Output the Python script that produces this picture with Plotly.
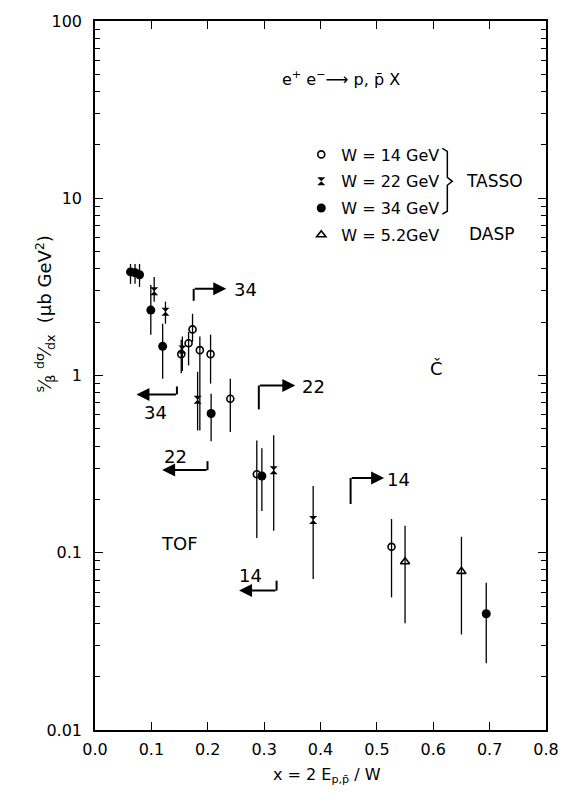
import plotly.graph_objects as go

# ---------------- data ----------------
# W = 14 GeV (TASSO, open circles)
x14 = [0.153, 0.166, 0.173, 0.186, 0.205, 0.240, 0.287, 0.526]
y14 = [1.32, 1.52, 1.82, 1.39, 1.32, 0.74, 0.277, 0.108]
y14_hi = [1.59, 1.76, 2.23, 1.66, 1.70, 0.96, 0.43, 0.155]
y14_lo = [1.03, 1.14, 1.55, 0.49, 0.90, 0.48, 0.121, 0.056]

# W = 22 GeV (TASSO, stars)
x22 = [0.105, 0.125, 0.155, 0.182, 0.317, 0.387]
y22 = [2.99, 2.29, 1.40, 0.73, 0.292, 0.153]
y22_hi = [3.60, 2.61, 1.66, 1.05, 0.46, 0.238]
y22_lo = [2.61, 1.96, 1.06, 0.49, 0.133, 0.071]

# W = 34 GeV (TASSO, filled circles)
x34 = [0.063, 0.071, 0.079, 0.099, 0.120, 0.206, 0.296, 0.694]
y34 = [3.84, 3.80, 3.70, 2.34, 1.46, 0.61, 0.271, 0.0453]
y34_hi = [4.26, 4.26, 4.26, 3.24, 1.96, 0.79, 0.389, 0.0678]
y34_lo = [3.29, 3.29, 3.16, 1.70, 0.96, 0.426, 0.172, 0.0238]

# W = 5.2 GeV (DASP, open triangles)
x52 = [0.550, 0.650]
y52 = [0.0889, 0.0785]
y52_hi = [0.142, 0.123]
y52_lo = [0.040, 0.0346]

x_ticks = [0.0, 0.1, 0.2, 0.3, 0.4, 0.5, 0.6, 0.7, 0.8]
x_ticklabels = ["0.0", "0.1", "0.2", "0.3", "0.4", "0.5", "0.6", "0.7", "0.8"]
y_ticks = [0.01, 0.1, 1, 10, 100]
y_ticklabels = ["0.01", "0.1", "1", "10", "100"]
y_minor = [m * d for d in [0.01, 0.1, 1, 10] for m in range(2, 10)]

FONT = "DejaVu Sans"
W, H = 571, 801
L, R, T, B = 95, 19, 18, 71
PW, PH = W - L - R, H - T - B


def px(xpix):
    return (xpix - L) / PW


def py(ypix):
    return (H - B - ypix) / PH


def err(y, hi, lo):
    return dict(type="data", symmetric=False,
                array=[h - v for h, v in zip(hi, y)],
                arrayminus=[v - l for v, l in zip(y, lo)],
                color="black", thickness=1.3, width=0)


fig = go.Figure()
fig.add_trace(go.Scatter(x=x14, y=y14, mode="markers", name="W = 14 GeV",
                         legendgroup="a",
                         marker=dict(symbol="circle-open", size=7, color="black",
                                     line=dict(width=1.6, color="black")),
                         error_y=err(y14, y14_hi, y14_lo)))
fig.add_trace(go.Scatter(x=x22, y=y22, mode="markers", name="W = 22 GeV",
                         legendgroup="b",
                         marker=dict(symbol="hourglass", size=8, color="black"),
                         error_y=err(y22, y22_hi, y22_lo)))
fig.add_trace(go.Scatter(x=x34, y=y34, mode="markers", name="W = 34 GeV",
                         legendgroup="c",
                         marker=dict(symbol="circle", size=9, color="black"),
                         error_y=err(y34, y34_hi, y34_lo)))
fig.add_trace(go.Scatter(x=x52, y=y52, mode="markers", name="W = 5.2GeV",
                         legendgroup="d",
                         marker=dict(symbol="triangle-up-open", size=8, color="black",
                                     line=dict(width=1.6, color="black")),
                         error_y=err(y52, y52_hi, y52_lo)))

annotations = []
shapes = []


def text(xp, yp, s, size=17, **kw):
    annotations.append(dict(x=px(xp), y=py(yp), xref="paper", yref="paper",
                            xanchor="center", yanchor="middle",
                            text=s, showarrow=False,
                            font=dict(family=FONT, size=size, color="black"), **kw))


def bracket_arrow(tipx, tailx, yline, yend, label, lx, ly):
    # horizontal arrow
    annotations.append(dict(x=px(tipx), y=py(yline), xref="paper", yref="paper",
                            ax=tailx - tipx, ay=0, axref="pixel", ayref="pixel",
                            showarrow=True, arrowhead=2, arrowsize=1.3,
                            arrowwidth=2, arrowcolor="black", text=""))
    shapes.append(dict(type="line", xref="paper", yref="paper",
                       x0=px(tailx), x1=px(tailx), y0=py(yline), y1=py(yend),
                       line=dict(color="black", width=2)))
    text(lx, ly, label, size=18)


bracket_arrow(228, 195, 287, 299, "34", 248, 288)
bracket_arrow(137, 178, 393, 385, "34", 156, 411)
bracket_arrow(298, 261, 384, 408, "22", 316, 385)
bracket_arrow(163, 209, 469, 460, "22", 177, 455)
bracket_arrow(388, 354, 477, 503, "14", 403, 478)
bracket_arrow(241, 279, 590, 580, "14", 253, 575)

text(181, 543, "TOF", size=18)
text(441, 367, "Č", size=18)
text(344, 76, "e<sup>+</sup> e<sup>−</sup>⟶ p, p̄ X", size=16)
text(500, 179, "TASSO", size=17)
text(497, 232, "DASP", size=17)

# brace for TASSO
bx0, bx1, bx2 = 447, 452, 457
brace_pts = [(bx0, 146), (bx1, 149), (bx1, 175), (bx2, 179), (bx1, 183), (bx1, 209), (bx0, 212)]
path = "M " + " L ".join(f"{px(a):.4f},{py(b):.4f}" for a, b in brace_pts)
shapes.append(dict(type="path", xref="paper", yref="paper", path=path,
                   line=dict(color="black", width=1.5)))

# axis titles
annotations.append(dict(x=px(44), y=py(312), xref="paper", yref="paper",
                        xanchor="center", yanchor="middle",
                        text="<sup>s</sup>⁄<sub>β</sub> <sup>dσ</sup>⁄<sub>dx</sub>  (μb GeV<sup>2</sup>)",
                        textangle=-90, showarrow=False,
                        font=dict(family=FONT, size=18, color="black")))
text(330, 776, "x = 2 E<sub>p,p̄</sub> / W", size=16)

axis_common = dict(showline=True, linecolor="black", linewidth=1.5, mirror="ticks",
                   ticks="inside", tickcolor="black", tickwidth=1.3, ticklen=8,
                   showgrid=False, zeroline=False,
                   tickfont=dict(family=FONT, size=16, color="black"))

fig.update_layout(
    width=W, height=H,
    margin=dict(l=L, r=R, t=T, b=B),
    paper_bgcolor="white", plot_bgcolor="white",
    font=dict(family=FONT, color="black"),
    xaxis=dict(range=[0, 0.8], tickvals=x_ticks, ticktext=x_ticklabels,
               ticklabelstandoff=4, **axis_common),
    yaxis=dict(type="log", range=[-2, 2], tickvals=y_ticks, ticktext=y_ticklabels,
               ticklabelstandoff=8,
               minor=dict(ticks="inside", ticklen=5, tickcolor="black", tickwidth=1.2,
                          tickvals=y_minor, showgrid=False),
               **axis_common),
    showlegend=True,
    legend=dict(x=px(304), y=py(135), xanchor="left", yanchor="top",
                bgcolor="rgba(0,0,0,0)", tracegroupgap=3,
                font=dict(family=FONT, size=16, color="black"),
                itemwidth=30),
    annotations=annotations,
    shapes=shapes,
)

fig.write_html("out.html")
